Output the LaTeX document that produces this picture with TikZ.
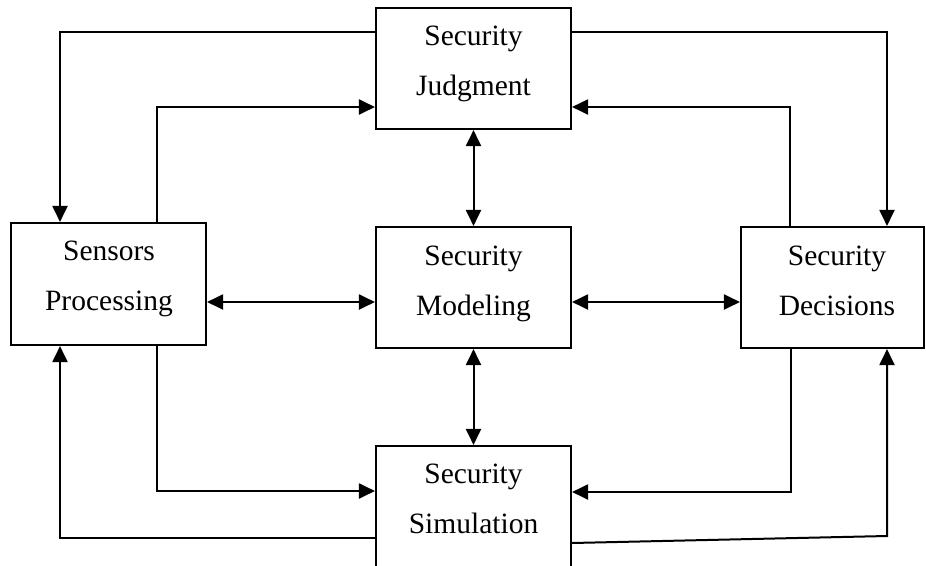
\documentclass[tikz,border=0pt]{standalone}
\usepackage{fontspec}
\setmainfont{Liberation Serif}
\usetikzlibrary{arrows.meta}
\tikzset{
  box/.style={draw, line width=2.1pt, inner sep=0pt, minimum width=195pt, minimum height=121pt},
  lbl/.style={align=center, inner sep=0pt, font=\fontsize{29.5}{50}\selectfont},
  conn/.style={line width=2pt},
  arr/.style={conn, -{Triangle[length=16pt,width=15pt]}},
  dbl/.style={conn, {Triangle[length=16pt,width=15pt]}-{Triangle[length=16pt,width=15pt]}}
}
\newcommand{\twolines}[2]{\rule{0pt}{20pt}#1\\#2\rule[-7pt]{0pt}{7pt}}
\begin{document}
\begin{tikzpicture}[x=1pt,y=-1pt]
\clip (0,0) rectangle (926,565);
\fill[white] (0,0) rectangle (926,565);
% boxes
\node[box] (J) at (473.5,68.5) {};
\node[box, minimum height=122pt] (S) at (108.5,284) {};
\node[box] (M) at (473.5,287.5) {};
\node[box, minimum width=183pt] (D) at (832.5,287.5) {};
\node[box, minimum height=130pt] (Sim) at (473.5,511) {};
% labels
\node[lbl] (Jt) at (473.5,63.5) {\twolines{Security}{Judgment}};
\node[lbl] (St) at (109,278.5) {\twolines{Sensors}{Processing}};
\node[lbl] (Mt) at (473.5,283.5) {\twolines{Security}{Modeling}};
\node[lbl] (Dt) at (837,283.5) {\twolines{Security}{Decisions}};
\node[lbl] (Simt) at (473.5,501.5) {\twolines{Security}{Simulation}};
% helper coordinates
\coordinate (a1) at (60,32);
\coordinate (a2) at (157,107);
\coordinate (a3) at (887,32);
\coordinate (a4) at (790,107);
\coordinate (a5) at (0,302);
\coordinate (a6) at (157,491);
\coordinate (a7) at (60,538);
\coordinate (a8) at (791,492);
\coordinate (a9) at (0,543);
\coordinate (a10) at (887,536);
% connectors
\draw[arr] (J.west |- a1) -| (S.north -| a1);
\draw[arr] (S.north -| a2) |- (J.west |- a2);
\draw[arr] (J.east |- a3) -| (D.north -| a3);
\draw[arr] (D.north -| a4) |- (J.east |- a4);
\draw[dbl] (J.south) -- (M.north);
\draw[dbl] (S.east |- a5) -- (M.west |- a5);
\draw[dbl] (M.east |- a5) -- (D.west |- a5);
\draw[dbl] (M.south) -- (Sim.north);
\draw[arr] (S.south -| a6) |- (Sim.west |- a6);
\draw[arr] (Sim.west |- a7) -| (S.south -| a7);
\draw[arr] (D.south -| a8) |- (Sim.east |- a8);
\draw[arr] (Sim.east |- a9) -- (a10) -- (D.south -| a10);
\end{tikzpicture}
\end{document}
